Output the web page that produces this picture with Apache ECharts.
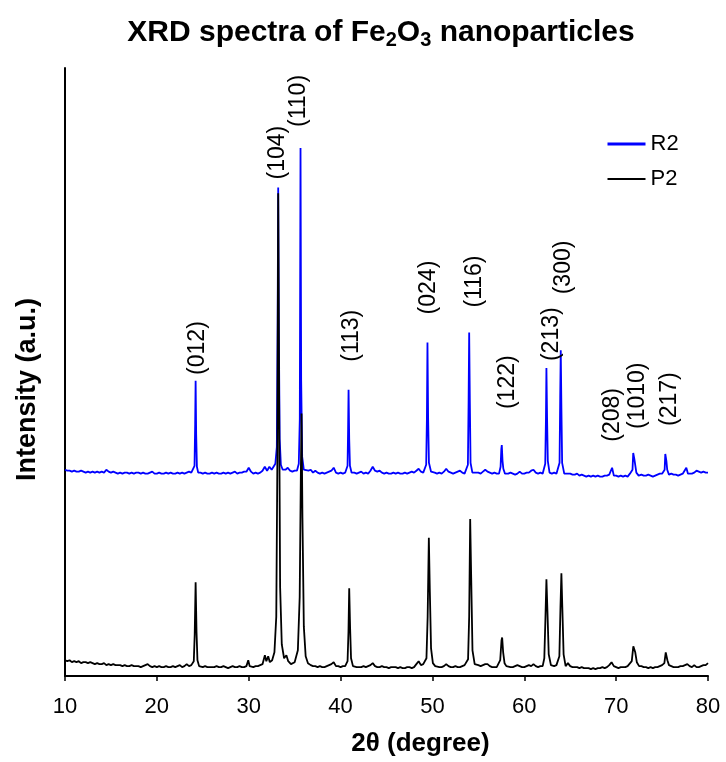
<!DOCTYPE html>
<html>
<head>
<meta charset="utf-8">
<script src="https://cdn.jsdelivr.net/npm/echarts@6/dist/echarts.min.js"></script>
<style>
  html, body { margin: 0; padding: 0; background: #fff; }
  #chart { width: 726px; height: 762px; }
</style>
</head>
<body>
<div id="chart"></div>
<script>
// 2θ grid of the background scans: starts at 10°, one reading every 0.25°
const thetaStart = 10;
const thetaStep = 0.25;

// R2 background counts (offset trace), 10.00° … 80.00°
const r2Background = [
  209,208,208,207, 208,207,207,208, 207,206,207,206, 207,206,207,206, 207,206,209,207,
  206,207,206,205, 206,205,206,206, 205,206,205,206, 206,205,206,205, 205,206,207,205,
  205,206,205,205, 206,205,206,205, 205,206,205,206, 205,206,207,206, 206,206,206,206,
  205,206,205,205, 206,205,206,205, 205,206,205,206, 205,206,207,205, 206,206,207,207,
  211,207,205,206, 205,206,208,212, 208,212,209,210, 210,210,210,210, 209,211,208,207,
  208,208,208,208, 207,207,208,209, 206,208,206,205, 206,205,206,207, 208,211,206,205,
  206,205,206,207, 206,205,206,205, 206,207,205,206, 205,208,212,208, 207,208,206,205,
  206,205,205,206, 205,206,205,205, 206,205,206,207, 206,208,210,207, 206,206,206,206,
  207,206,205,206, 205,207,210,207, 206,205,206,207, 208,206,205,206, 206,206,206,206,
  206,205,207,209, 207,206,205,206, 205,206,206,206, 205,205,206,205, 204,205,207,205,
  205,206,206,208, 209,206,205,206, 205,206,206,206, 205,206,205,206, 206,206,205,205,
  205,204,204,205, 203,204,203,202, 203,202,203,202, 203,202,202,203, 203,204,206,204,
  203,202,203,202, 203,202,205,204, 204,205,205,204, 203,203,204,203, 202,203,204,205,
  205,205,205,205, 205,204,204,203, 204,205,206,210, 206,205,206,208, 207,206,207,206,
  206
];

// P2 background counts, 10.00° … 80.00°
const p2Background = [
  16,15,16,14, 15,14,15,13, 14,14,13,14, 13,12,13,12, 12,13,11,12,
  11,12,11,11, 11,10,11,10, 10,11,10,10, 10,9,10,11, 12,10,9,10,
  9,10,9,9, 10,9,9,10, 9,10,11,9, 10,12,10,11, 10,10,10,10,
  9,10,9,9, 9,9,10,9, 9,10,9,8, 9,10,9,9, 10,9,9,10,
  11,10,9,10, 10,11,12,14, 15,15,16,20, 20,20,20,20, 19,16,13,12,
  14,14,14,14, 14,12,11,11, 10,10,9,10, 9,9,10,11, 12,14,10,10,
  9,10,10,10, 10,10,9,9, 9,9,10,9, 10,11,13,10, 9,9,10,9,
  9,8,9,9, 9,8,9,8, 8,9,9,8, 9,12,15,11, 12,12,12,12,
  11,10,10,9, 9,10,12,10, 9,9,10,9, 9,10,11,13, 13,13,13,13,
  11,10,11,12, 12,10,9,9, 9,10,10,10, 10,9,9,9, 10,11,10,9,
  9,10,11,10, 12,10,9,10, 10,10,10,10, 10,10,11,13, 13,13,13,13,
  10,9,9,9, 8,9,8,8, 8,7,8,7, 8,8,9,8, 9,11,14,10,
  9,8,9,9, 9,10,12,12, 12,12,11,10, 9,9,8,9, 8,9,9,10,
  11,11,11,11, 10,9,9,9, 10,10,11,12, 10,9,11,9, 9,10,11,11,
  13
];

// R2 reflection profiles, [2θ, counts]
const r2Peaks = [
  [[23.95,206],[24.1,213],[24.17,255],[24.22,299],[24.28,245],[24.36,212],[24.5,206]],
  [[32.7,209],[32.9,215],[33.06,232],[33.15,360],[33.21,495],[33.28,350],[33.37,240],[33.5,214],[33.7,209]],
  [[35.25,208],[35.45,215],[35.56,260],[35.64,535],[35.71,300],[35.82,222],[36.0,209],[36.2,207]],
  [[40.6,206],[40.76,213],[40.82,250],[40.87,290],[40.94,240],[41.02,213],[41.2,206]],
  [[49.15,207],[49.32,214],[49.4,262],[49.46,338],[49.53,262],[49.62,216],[49.85,207]],
  [[53.7,206],[53.86,214],[53.94,280],[54.0,348],[54.07,280],[54.15,216],[54.35,206]],
  [[57.25,205],[57.42,212],[57.5,230],[57.55,234],[57.63,218],[57.72,210],[57.9,205]],
  [[62.1,206],[62.28,215],[62.36,262],[62.41,312],[62.48,262],[62.56,218],[62.75,206]],
  [[63.7,206],[63.84,216],[63.91,282],[63.97,330],[64.04,272],[64.12,216],[64.35,205]],
  [[69.35,203],[69.56,211],[69.75,203]],
  [[71.6,203],[71.78,209],[71.86,226],[71.91,228],[71.98,220],[72.06,215],[72.2,206],[72.45,203]],
  [[75.1,203],[75.28,209],[75.35,225],[75.4,227],[75.47,218],[75.56,209],[75.75,204]],
  [[77.45,204],[77.64,211],[77.82,205]]
];

// P2 reflection profiles, [2θ, counts]
const p2Peaks = [
  [[23.85,11],[24.02,15],[24.12,42],[24.22,95],[24.32,44],[24.42,16],[24.6,10]],
  [[29.8,9],[29.95,16],[30.1,10]],
  [[31.55,12],[31.76,21],[31.92,15],[32.0,16],[32.12,20],[32.3,14],[32.55,16],[32.8,24],[33.0,60],
   [33.12,220],[33.21,489],[33.3,300],[33.42,90],[33.6,32],[33.85,18],[34.1,21],[34.3,15],[34.6,12],
   [35.0,14],[35.35,26],[35.55,80],[35.67,200],[35.75,266],[35.85,160],[36.0,50],[36.2,20],[36.45,13]],
  [[40.6,10],[40.76,15],[40.86,45],[40.94,89],[41.04,48],[41.14,18],[41.35,10]],
  [[49.15,12],[49.35,18],[49.48,60],[49.61,140],[49.72,85],[49.85,28],[50.05,13],[50.3,10]],
  [[53.65,11],[53.88,17],[54.0,60],[54.11,159],[54.22,100],[54.36,26],[54.6,12]],
  [[57.2,10],[57.38,16],[57.52,36],[57.59,39],[57.7,24],[57.85,13],[58.05,10]],
  [[62.0,10],[62.18,18],[62.3,58],[62.41,98],[62.52,66],[62.66,22],[62.9,11]],
  [[63.65,11],[63.82,20],[63.94,70],[64.04,104],[64.14,70],[64.28,22],[64.5,10]],
  [[71.45,9],[71.7,15],[71.87,30],[71.95,32],[72.08,24],[72.25,14],[72.5,10]],
  [[75.05,9],[75.25,13],[75.4,24],[75.47,25],[75.58,16],[75.75,11],[75.95,9]]
];

// Miller indices of the indexed reflections and their 2θ on the R2 trace
const peakLabels = ['(012)','(104)','(110)','(113)','(024)','(116)','(122)','(213)','(300)','(208)','(1010)','(217)'];
const peakTheta  = [24.22, 33.21, 35.64, 40.87, 49.46, 54.0, 57.55, 62.41, 63.97, 69.56, 71.91, 75.4];

// Layout: [horizontal shift, lift above peak top] for each index label, in pixels
const labelPlacement = [[2,6],[-1,8],[-2,21],[3,28],[1,28],[5,25],[6,36],[5,7],[3,56],[1,26],[4,22],[4,26]];

const FONT = 'Liberation Sans, Arial, Helvetica, sans-serif';

// Merge a background scan with its reflection profiles into one sorted trace
function buildTrace(background, peaks) {
  const pts = [];
  background.forEach((v, i) => {
    const t = thetaStart + i * thetaStep;
    const covered = peaks.some(p => t >= p[0][0] && t <= p[p.length - 1][0]);
    if (!covered) pts.push([t, v]);
  });
  peaks.forEach(p => p.forEach(q => pts.push([q[0], q[1]])));
  pts.sort((a, b) => a[0] - b[0]);
  return pts;
}

const r2Trace = buildTrace(r2Background, r2Peaks);
const p2Trace = buildTrace(p2Background, p2Peaks);

function topNear(trace, theta) {
  let best = -Infinity;
  trace.forEach(p => { if (Math.abs(p[0] - theta) <= 0.1 && p[1] > best) best = p[1]; });
  return best;
}

const chart = echarts.init(document.getElementById('chart'), null, { renderer: 'canvas' });

chart.setOption({
  animation: false,
  backgroundColor: '#fff',
  title: {
    text: 'XRD spectra of Fe{s|2}O{s|3} nanoparticles',
    left: 376,
    top: 11,
    textAlign: 'center',
    textStyle: {
      fontFamily: FONT, fontSize: 30, fontWeight: 'bold', color: '#000', lineHeight: 34,
      rich: {
        s: { fontFamily: FONT, fontSize: 20, fontWeight: 'bold', color: '#000', verticalAlign: 'bottom', lineHeight: 16 }
      }
    }
  },
  legend: {
    orient: 'vertical',
    left: 601,
    top: 128,
    itemWidth: 38,
    itemHeight: 14,
    itemGap: 13,
    textStyle: { fontFamily: FONT, fontSize: 22, color: '#000' },
    data: [
      { name: 'R2', lineStyle: { width: 3 }, itemStyle: { opacity: 0 } },
      { name: 'P2', lineStyle: { width: 2 }, itemStyle: { opacity: 0 } }
    ]
  },
  grid: { left: 65, right: 18, top: 68, bottom: 78 },
  xAxis: {
    type: 'value',
    min: 10, max: 80, interval: 10,
    name: '2θ (degree)',
    nameLocation: 'middle',
    nameGap: 55,
    nameTextStyle: { fontFamily: FONT, fontSize: 26, fontWeight: 'bold', color: '#000', padding: [0, 0, 0, 68] },
    axisLine: { show: true, lineStyle: { color: '#000', width: 2 } },
    axisTick: { show: true, inside: false, length: 5, lineStyle: { color: '#000', width: 1.5 } },
    axisLabel: { fontFamily: FONT, fontSize: 22, color: '#000', margin: 20 },
    splitLine: { show: false }
  },
  yAxis: {
    type: 'value',
    min: 0, max: 616,
    name: 'Intensity (a.u.)',
    nameLocation: 'middle',
    nameGap: 24,
    nameTextStyle: { fontFamily: FONT, fontSize: 27, fontWeight: 'bold', color: '#000', padding: [0, 35, 0, 0] },
    axisLine: { show: true, lineStyle: { color: '#000', width: 2 } },
    axisTick: { show: false },
    axisLabel: { show: false },
    splitLine: { show: false }
  },
  series: [
    {
      name: 'R2',
      type: 'line',
      data: r2Trace,
      symbol: 'none',
      lineStyle: { color: '#0000ff', width: 1.8 },
      itemStyle: { color: '#0000ff' },
      markPoint: {
        symbol: 'circle',
        symbolSize: 0,
        silent: true,
        label: {
          show: true,
          position: 'inside',
          rotate: 90,
          align: 'left',
          verticalAlign: 'middle',
          fontFamily: FONT,
          fontSize: 23,
          color: '#000',
          formatter: p => p.name
        },
        // offset is given in the label's rotated frame: [along the text, across it]
        data: peakLabels.map((name, i) => ({
          name: name,
          coord: [peakTheta[i], topNear(r2Trace, peakTheta[i])],
          label: { offset: [labelPlacement[i][1], labelPlacement[i][0]] }
        }))
      }
    },
    {
      name: 'P2',
      type: 'line',
      data: p2Trace,
      symbol: 'none',
      lineStyle: { color: '#000000', width: 1.8 },
      itemStyle: { color: '#000000' }
    }
  ]
});
</script>
</body>
</html>
